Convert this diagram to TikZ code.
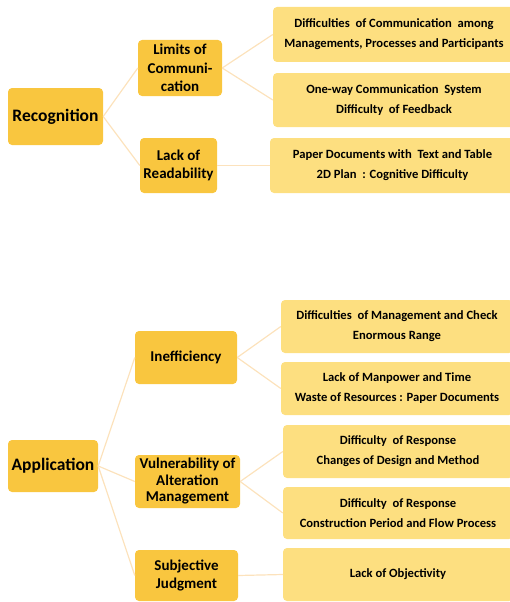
\documentclass[tikz,border=0pt]{standalone}
\usepackage{fontspec}
\setmainfont{Carlito}
\definecolor{topgold}{HTML}{F9C63F}
\definecolor{leafgold}{HTML}{FDDF80}
\definecolor{linkline}{HTML}{FCE2BC}
\begin{document}
\begin{tikzpicture}[x=1pt,y=-1pt,
    rootbox/.style={fill=topgold,rounded corners=4pt,inner sep=0pt,align=center,
                    font=\fontsize{17.5}{20}\selectfont\bfseries},
    midbox/.style={fill=topgold,rounded corners=4pt,inner sep=0pt,align=center,
                   font=\fontsize{15}{18.5}\selectfont\bfseries},
    leafbox/.style={fill=leafgold,rounded corners=4pt,inner sep=0pt,align=center,
                    font=\fontsize{12.6}{20}\selectfont\bfseries},
    link/.style={draw=linkline,line width=1.2pt}]

    \useasboundingbox (0,0) rectangle (509,602);

    % first tree
    \node[rootbox,minimum width=95,minimum height=57] (recog) at (55.5,116.5) {Recognition};

    \node[midbox,minimum width=84,minimum height=56] (limits) at (180,68) {Limits of\\Communi-\\cation};
    \node[midbox,minimum width=77,minimum height=55] (lack)   at (178.5,165.5) {Lack of\\Readability};

    \node[leafbox,minimum width=242,minimum height=55] (comm1) at (394,34.5)
        {\fontsize{12.6}{15}\selectfont Difficulties\ \ of Communication\ \ among\\Managements, Processes and Participants};
    \node[leafbox,minimum width=242,minimum height=54] (comm2) at (394,100)
        {One-way Communication\ \ System\\Difficulty\ \ of Feedback};
    \node[leafbox,minimum width=245,minimum height=55] (read1) at (392.5,165.5)
        {Paper Documents with\ \ Text and Table\\2D Plan\ \ : Cognitive Difficulty};

    \draw[link] (recog.east) -- (limits.west);
    \draw[link] (recog.east) -- (lack.west);
    \draw[link] (limits.east) -- (comm1.west);
    \draw[link] (limits.east) -- (comm2.west);
    \draw[link] (lack.east) -- (read1.west);

    % second tree
    \node[rootbox,minimum width=90,minimum height=52] (appl) at (53,466) {Application};

    \node[midbox,minimum width=102,minimum height=53] (ineff) at (186,357.5) {Inefficiency};
    \node[midbox,minimum width=105,minimum height=53,font=\fontsize{15}{16.5}\selectfont\bfseries] (vuln) at (187.5,481.5)
        {Vulnerability of\\Alteration\\Management};
    \node[midbox,minimum width=103,minimum height=51] (subj) at (186.5,575.5) {Subjective\\Judgment};

    \node[leafbox,minimum width=232,minimum height=53] (ineff1) at (397,326.5)
        {\fontsize{12.6}{15}\selectfont Difficulties\ \ of Management and Check\\Enormous Range};
    \node[leafbox,minimum width=232,minimum height=53] (ineff2) at (397,388.5)
        {Lack of Manpower and Time\\Waste of Resources : Paper Documents};
    \node[leafbox,minimum width=230,minimum height=53] (vuln1) at (398,451.5)
        {Difficulty\ \ of Response\\Changes of Design and Method};
    \node[leafbox,minimum width=230,minimum height=52] (vuln2) at (398,513)
        {Difficulty\ \ of Response\\Construction Period and Flow Process};
    \node[leafbox,minimum width=230,minimum height=53] (subj1) at (398,574.5)
        {Lack of Objectivity};

    \draw[link] (appl.east) -- (ineff.west);
    \draw[link] (appl.east) -- (vuln.west);
    \draw[link] (appl.east) -- (subj.west);
    \draw[link] (ineff.east) -- (ineff1.west);
    \draw[link] (ineff.east) -- (ineff2.west);
    \draw[link] (vuln.east) -- (vuln1.west);
    \draw[link] (vuln.east) -- (vuln2.west);
    \draw[link] (subj.east) -- (subj1.west);
\end{tikzpicture}
\end{document}
